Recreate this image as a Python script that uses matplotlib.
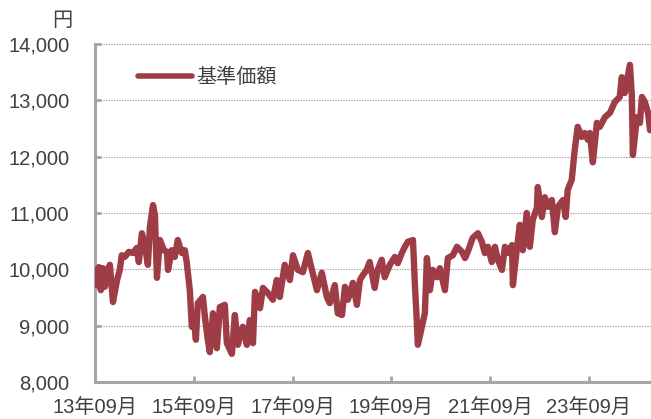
import matplotlib
matplotlib.use("Agg")
import matplotlib.pyplot as plt
import matplotlib.dates as mdates
from matplotlib.ticker import FuncFormatter
import pandas as pd

dates = [
    "2013-09-02", "2013-09-15", "2013-09-30", "2013-10-14", "2013-10-29", "2013-11-13", "2013-11-28", "2013-12-20",
    "2014-01-12", "2014-02-11", "2014-03-03", "2014-03-18", "2014-04-09", "2014-05-09", "2014-06-08", "2014-07-07",
    "2014-07-22", "2014-08-14", "2014-09-05", "2014-09-27", "2014-10-12", "2014-11-04", "2014-11-18", "2014-12-03",
    "2014-12-25", "2015-01-24", "2015-02-15", "2015-02-23", "2015-03-22", "2015-04-14", "2015-05-06", "2015-06-05",
    "2015-06-27", "2015-07-11", "2015-07-26", "2015-08-03", "2015-08-18", "2015-09-02", "2015-09-17", "2015-10-01",
    "2015-11-08", "2015-11-23", "2015-12-14", "2015-12-29", "2016-01-21", "2016-02-19", "2016-03-12", "2016-04-18",
    "2016-05-03", "2016-06-09", "2016-07-01", "2016-07-23", "2016-08-29", "2016-09-28", "2016-10-20", "2016-11-12",
    "2016-11-27", "2017-01-03", "2017-01-25", "2017-03-02", "2017-04-08", "2017-05-07", "2017-05-29", "2017-07-05",
    "2017-08-12", "2017-09-04", "2017-10-10", "2017-11-16", "2017-12-23", "2018-01-22", "2018-02-28", "2018-04-05",
    "2018-05-12", "2018-06-03", "2018-07-10", "2018-08-01", "2018-09-01", "2018-09-23", "2018-10-15", "2018-11-21",
    "2018-12-20", "2019-01-12", "2019-02-03", "2019-03-03", "2019-03-25", "2019-05-01", "2019-05-23", "2019-06-22",
    "2019-07-14", "2019-08-21", "2019-09-27", "2019-10-19", "2019-11-18", "2019-12-10", "2020-01-02", "2020-02-08",
    "2020-02-23", "2020-03-08", "2020-03-15", "2020-04-14", "2020-05-06", "2020-05-21", "2020-06-12", "2020-07-04",
    "2020-08-03", "2020-08-25", "2020-10-01", "2020-10-23", "2020-11-29", "2020-12-29", "2021-02-05", "2021-02-27",
    "2021-03-19", "2021-04-25", "2021-06-02", "2021-07-01", "2021-07-23", "2021-08-15", "2021-09-13", "2021-10-06",
    "2021-10-28", "2021-11-27", "2021-12-19", "2022-01-10", "2022-02-09", "2022-02-16", "2022-03-16", "2022-04-08",
    "2022-04-30", "2022-05-29", "2022-06-21", "2022-07-13", "2022-08-12", "2022-08-19", "2022-09-18", "2022-10-10",
    "2022-11-02", "2022-12-01", "2022-12-23", "2023-01-15", "2023-02-21", "2023-03-13", "2023-03-28", "2023-04-27",
    "2023-05-19", "2023-06-10", "2023-07-10", "2023-08-01", "2023-08-24", "2023-09-08", "2023-09-30", "2023-10-30",
    "2023-11-21", "2023-12-28", "2024-02-04", "2024-03-10", "2024-04-16", "2024-05-01", "2024-05-23", "2024-06-30",
    "2024-07-14", "2024-07-22", "2024-08-21", "2024-09-12", "2024-09-27", "2024-10-19", "2024-11-11", "2024-11-26",
]

nav = [
    9990, 9720, 10040, 9630, 10020, 9690, 9950, 10080,
    9420, 9810, 9990, 10250, 10220, 10310, 10290, 10380,
    10130, 10640, 10430, 10080, 10750, 11140, 10960, 9850,
    10520, 10340, 10310, 9990, 10340, 10220, 10520, 10290,
    10340, 10130, 9810, 9630, 8980, 9140, 8750, 9400,
    9510, 9150, 8750, 8530, 9220, 8600, 9330, 9370,
    8690, 8500, 9190, 8660, 8980, 8660, 9100, 8690,
    9600, 9310, 9670, 9580, 9460, 9810, 9510, 10080,
    9810, 10250, 9990, 9950, 10290, 9990, 9630, 9940,
    9510, 9400, 9720, 9220, 9190, 9690, 9460, 9760,
    9370, 9810, 9900, 9990, 10130, 9670, 9990, 10170,
    9860, 10080, 10220, 10110, 10290, 10400, 10490, 10520,
    9690, 9050, 8660, 8980, 9220, 10200, 9630, 9990,
    9860, 10020, 9630, 10200, 10250, 10400, 10310, 10200,
    10310, 10560, 10640, 10490, 10290, 10400, 10130, 10400,
    10170, 9990, 10400, 10290, 10430, 9720, 10340, 10790,
    10340, 11000, 10400, 10880, 11090, 11460, 10930, 11280,
    11110, 11230, 10660, 11110, 11230, 10930, 11410, 11590,
    12120, 12530, 12350, 12420, 12300, 12420, 11900, 12600,
    12530, 12700, 12780, 12970, 13060, 13410, 13130, 13630,
    13100, 12030, 12700, 12600, 13060, 12970, 12780, 12470,
]

series_label = "基準価額"
y_ticks = [8000, 9000, 10000, 11000, 12000, 13000, 14000]
x_tick_dates = ["2013-09-01", "2015-09-01", "2017-09-01", "2019-09-01", "2021-09-01", "2023-09-01"]
unit_label = "円"

LINE_COLOR = "#9E3D46"
TEXT_COLOR = "#404040"
SPINE_COLOR = "#A6A6A6"
FONT = ["Liberation Sans", "Noto Sans CJK JP", "DejaVu Sans"]
plt.rcParams["font.family"] = FONT

x = pd.to_datetime(dates)

fig = plt.figure(figsize=(6.51, 4.19), dpi=100)
ax = fig.add_axes([95 / 651, 1 - 382 / 419, 1 - 95 / 651, (382 - 44) / 419])

ax.plot(x, nav, color=LINE_COLOR, linewidth=4.6, solid_capstyle="round",
        solid_joinstyle="round", label=series_label, zorder=3)

ax.set_ylim(8000, 14000)
ax.set_yticks(y_ticks)
ax.yaxis.set_major_formatter(FuncFormatter(lambda v, p: f"{int(v):,}"))
ax.set_xlim(pd.Timestamp("2013-09-01"), pd.Timestamp("2024-12-03"))
ax.set_xticks(pd.to_datetime(x_tick_dates))
ax.xaxis.set_major_formatter(mdates.DateFormatter("%y年%m月"))

ax.grid(axis="y", color="#9A9A9A", linestyle=(0, (1.2, 1.2)), linewidth=0.8, zorder=1)
ax.set_axisbelow(True)

for s in ["top", "right"]:
    ax.spines[s].set_visible(False)
for s in ["left", "bottom"]:
    ax.spines[s].set_color(SPINE_COLOR)
    ax.spines[s].set_linewidth(2.2)

ax.tick_params(axis="both", direction="in", length=4, width=2, color=SPINE_COLOR,
               labelsize=14.5, labelcolor=TEXT_COLOR)
ax.tick_params(axis="y", pad=18.5)
ax.tick_params(axis="x", pad=12)

ax.text(-0.041, 1.04, unit_label, transform=ax.transAxes, fontsize=14.5,
        color=TEXT_COLOR, ha="right", va="bottom")

leg = ax.legend(loc="center left", bbox_to_anchor=(0.077, 0.902), frameon=False,
                borderpad=0, borderaxespad=0, handlelength=2.7, handletextpad=0.2,
                fontsize=14.5)
for t in leg.get_texts():
    t.set_color(TEXT_COLOR)
for h in leg.get_lines():
    h.set_linewidth(4.0)
    h.set_solid_capstyle("round")

fig.savefig("out.png", dpi=100)
